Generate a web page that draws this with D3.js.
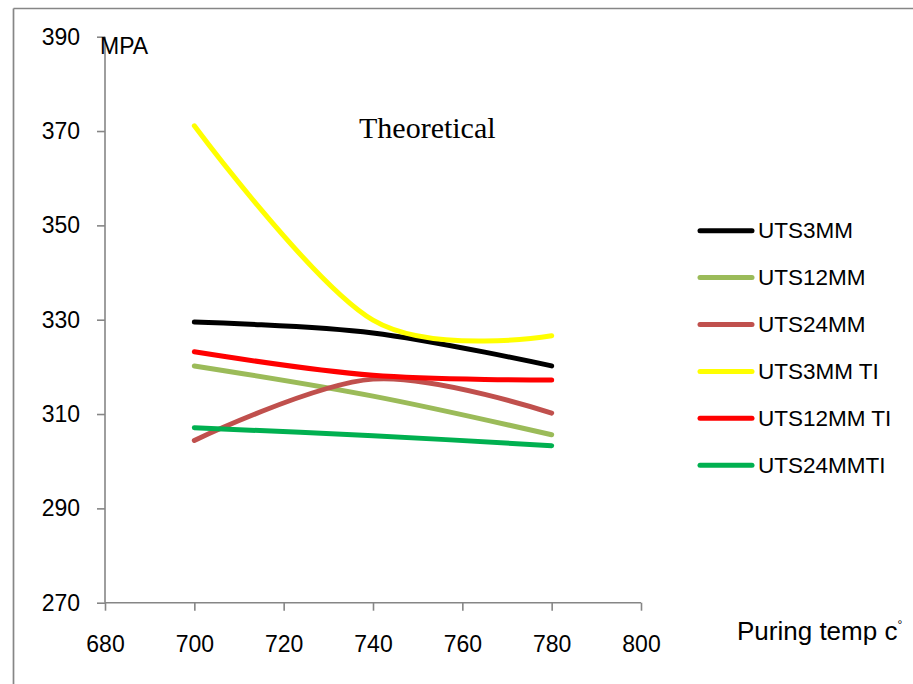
<!DOCTYPE html>
<html>
<head>
<meta charset="utf-8">
<script src="https://cdn.jsdelivr.net/npm/d3@7"></script>
<style>
  html, body { margin: 0; padding: 0; background: #fff; }
  svg { display: block; }
</style>
</head>
<body>
<svg id="chart" width="913" height="684"></svg>
<script>
// Pouring temperature (°C) at which each specimen was measured
const temps = [700, 740, 780];

// Ultimate tensile strength, MPa
const uts3mm    = [329.5, 327.2, 320.2];
const uts12mm   = [320.2, 313.8, 305.6];
const uts24mm   = [304.4, 317.4, 310.2];
const uts3mmTi  = [371.1, 329.9, 326.6];
const uts12mmTi = [323.2, 318.2, 317.2];
const uts24mmTi = [307.1, 305.4, 303.3];

const seriesNames  = ["UTS3MM", "UTS12MM", "UTS24MM", "UTS3MM TI", "UTS12MM TI", "UTS24MMTI"];
const seriesValues = [uts3mm, uts12mm, uts24mm, uts3mmTi, uts12mmTi, uts24mmTi];
const seriesColors = ["#000000", "#9BBB59", "#C0504D", "#FFFF00", "#FF0000", "#00B050"];

const xTicks = [680, 700, 720, 740, 760, 780, 800];
const yTicks = [270, 290, 310, 330, 350, 370, 390];

const svg = d3.select("#chart");
const axisColor = "#868686";

// outer frame (left and top edges visible)
svg.append("line").attr("x1", 13.5).attr("y1", 8.5).attr("x2", 13.5).attr("y2", 684)
  .attr("stroke", axisColor).attr("stroke-width", 1.7);
svg.append("line").attr("x1", 13.5).attr("y1", 8.5).attr("x2", 913).attr("y2", 8.5)
  .attr("stroke", axisColor).attr("stroke-width", 1.7);

const x = d3.scaleLinear().domain([680, 800]).range([105, 641]);
const y = d3.scaleLinear().domain([270, 390]).range([602.7, 36.7]);

const labelFont = "'Liberation Sans', Arial, sans-serif";

// y axis
const yAxis = svg.append("g")
  .attr("transform", `translate(${x(680)},0)`)
  .call(d3.axisLeft(y).tickValues(yTicks).tickSize(8).tickPadding(17).tickFormat(d3.format("d")));
yAxis.select(".domain").attr("stroke", axisColor).attr("stroke-width", 1.6).attr("d", `M0,${y(390)}V${y(270)}`);
yAxis.selectAll(".tick line").attr("stroke", axisColor).attr("stroke-width", 1.6);
yAxis.selectAll(".tick text").attr("font-family", labelFont).attr("font-size", 23).attr("fill", "#000");

// x axis
const xAxis = svg.append("g")
  .attr("transform", `translate(0,${y(270)})`)
  .call(d3.axisBottom(x).tickValues(xTicks).tickSize(8).tickPadding(25).tickFormat(d3.format("d")));
xAxis.select(".domain").attr("stroke", axisColor).attr("stroke-width", 1.6).attr("d", `M${x(680)},0H${x(800)}`);
xAxis.selectAll(".tick line").attr("stroke", axisColor).attr("stroke-width", 1.6);
xAxis.selectAll(".tick text").attr("font-family", labelFont).attr("font-size", 23).attr("fill", "#000");

// series curves, smoothed through the measured points
const line = d3.line()
  .x((d, i) => x(temps[i]))
  .y(d => y(d))
  .curve(d3.curveCardinal.tension(0));

svg.append("g").selectAll("path")
  .data(seriesValues)
  .join("path")
  .attr("d", d => line(d))
  .attr("fill", "none")
  .attr("stroke", (d, i) => seriesColors[i])
  .attr("stroke-width", 5)
  .attr("stroke-linecap", "round")
  .attr("stroke-linejoin", "round");

// axis titles and chart note
svg.append("text").attr("x", 100).attr("y", 53.5)
  .attr("font-family", labelFont).attr("font-size", 23).attr("fill", "#000").text("MPA");

const xTitle = svg.append("text").attr("x", 737).attr("y", 640)
  .attr("font-family", labelFont).attr("font-size", 26).attr("fill", "#000");
xTitle.append("tspan").text("Puring temp c");
xTitle.append("tspan").attr("dy", -11).attr("font-size", 12).text("°");

svg.append("text").attr("x", 359).attr("y", 138.3)
  .attr("font-family", "'Liberation Serif', 'Times New Roman', serif")
  .attr("font-size", 30).attr("fill", "#000").text("Theoretical");

// legend
const legend = svg.append("g").selectAll("g")
  .data(seriesNames)
  .join("g")
  .attr("transform", (d, i) => `translate(700,${230.7 + i * 46.9})`);
legend.append("line")
  .attr("x1", 0).attr("x2", 52).attr("y1", 0).attr("y2", 0)
  .attr("stroke", (d, i) => seriesColors[i]).attr("stroke-width", 5).attr("stroke-linecap", "round");
legend.append("text")
  .attr("x", 58).attr("y", 7.5)
  .attr("font-family", labelFont).attr("font-size", 22.5).attr("fill", "#000")
  .text(d => d);
</script>
</body>
</html>
